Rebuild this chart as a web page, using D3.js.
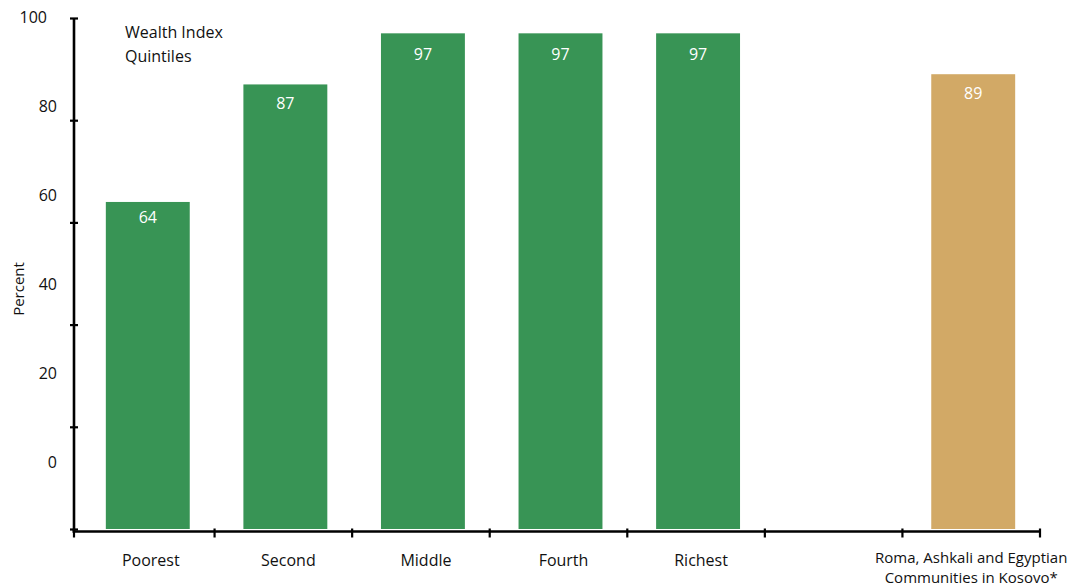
<!DOCTYPE html>
<html>
<head>
<meta charset="utf-8">
<script src="https://cdn.jsdelivr.net/npm/d3@7"></script>
<style>
  html, body { margin: 0; padding: 0; background: #fff; }
  svg { display: block; font-family: "Open Sans", "Noto Sans", sans-serif; }
</style>
</head>
<body>
<svg id="chart" width="1078" height="587"></svg>
<script>
// Percent by wealth index quintile, plus Roma, Ashkali and Egyptian communities
const categories = ["Poorest", "Second", "Middle", "Fourth", "Richest", "", "Roma"];
const values = [64, 87, 97, 97, 97, null, 89];
const groups = ["quintile", "quintile", "quintile", "quintile", "quintile", null, "rae"];
const yTicks = [0, 20, 40, 60, 80, 100];
const romaLabel = ["Roma, Ashkali and Egyptian", "Communities in Kosovo*"];

const colors = { quintile: "#389455", rae: "#d2a966" };

const svg = d3.select("#chart");

const x = d3.scaleBand().domain(categories).range([77, 1040]).paddingInner(0).paddingOuter(0);
const y = d3.scaleLinear().domain([0, 100]).range([529, 18]);
// tick labels sit on their own, tighter spacing
const yLabel = d3.scaleLinear().domain([0, 100]).range([462, 17]);
// value labels inside the bars
const valueY = d3.scaleLinear().domain([0, 100]).range([539, 45]);

const barW = x.bandwidth() * 0.61;
const barX = c => x(c) + (x.bandwidth() - barW) / 2 + 2;

// bars
const data = categories.map((c, i) => ({ c, v: values[i], g: groups[i] })).filter(d => d.v != null);
svg.append("g").selectAll("rect").data(data).join("rect")
  .attr("x", d => barX(d.c))
  .attr("y", d => y(d.v))
  .attr("width", barW)
  .attr("height", d => y(0) - y(d.v))
  .attr("fill", d => colors[d.g]);

// value labels
svg.append("g").selectAll("text").data(data).join("text")
  .attr("x", d => barX(d.c) + barW / 2)
  .attr("y", d => valueY(d.v))
  .attr("text-anchor", "middle")
  .attr("fill", "#fff")
  .attr("font-size", 16)
  .text(d => d.v);

// y axis: line and ticks
const yAxis = svg.append("g").attr("transform", "translate(74,0)")
  .call(d3.axisLeft(y).tickValues(yTicks).tickFormat("").tickSizeOuter(0).tickSizeInner(4));
yAxis.select(".domain").attr("stroke", "#000").attr("stroke-width", 2.6)
  .attr("d", `M0,${y(100)}V${y(0) + 2}`);
yAxis.selectAll(".tick line").attr("x1", 4).attr("x2", -4).attr("stroke-width", 2.2);

// y tick labels
const yLab = svg.append("g").attr("transform", "translate(57,0)")
  .call(d3.axisLeft(yLabel).tickValues(yTicks).tickSize(0).tickPadding(0));
yLab.select(".domain").remove();
yLab.selectAll(".tick text").attr("font-size", 16).attr("fill", "#111")
  .attr("font-family", "'Open Sans', 'Noto Sans', sans-serif")
  .attr("dx", d => d === 100 ? -10 : 0);

// x axis line with ticks at the category boundaries
const xAxisY = 531.5;
const bounds = categories.map(c => x(c)).concat([x.range()[1]]);
svg.append("line")
  .attr("x1", 72.5).attr("x2", x.range()[1])
  .attr("y1", xAxisY).attr("y2", xAxisY)
  .attr("stroke", "#000").attr("stroke-width", 2.6);
svg.append("g").selectAll("line").data(bounds).join("line")
  .attr("x1", (d, i) => i === 0 ? 74 : d).attr("x2", (d, i) => i === 0 ? 74 : d)
  .attr("y1", xAxisY - 3).attr("y2", xAxisY + 6)
  .attr("stroke", "#000").attr("stroke-width", 2.2);

// x category labels
const xLab = svg.append("g").attr("transform", `translate(5,566)`)
  .call(d3.axisBottom(x).tickSize(0).tickPadding(0)
    .tickFormat(d => d === "Roma" ? "" : d));
xLab.select(".domain").remove();
xLab.selectAll(".tick text").attr("font-size", 16).attr("fill", "#111")
  .attr("dy", 0)
  .attr("font-family", "'Open Sans', 'Noto Sans', sans-serif");

const romaX = barX("Roma") + barW / 2 - 2;
svg.append("text")
  .attr("x", romaX)
  .attr("y", 563)
  .attr("text-anchor", "middle")
  .attr("font-size", 15).attr("fill", "#111")
  .selectAll("tspan").data(romaLabel).join("tspan")
  .attr("x", romaX)
  .attr("dy", (d, i) => i === 0 ? 0 : 20)
  .text(d => d);

// y axis title
svg.append("text")
  .attr("transform", "translate(24,289) rotate(-90)")
  .attr("text-anchor", "middle")
  .attr("font-size", 15).attr("fill", "#111")
  .text("Percent");

// group note
svg.append("text")
  .attr("x", 125).attr("y", 38)
  .attr("font-size", 16).attr("fill", "#111")
  .selectAll("tspan").data(["Wealth Index", "Quintiles"]).join("tspan")
  .attr("x", 125)
  .attr("dy", (d, i) => i === 0 ? 0 : 24)
  .text(d => d);
</script>
</body>
</html>
